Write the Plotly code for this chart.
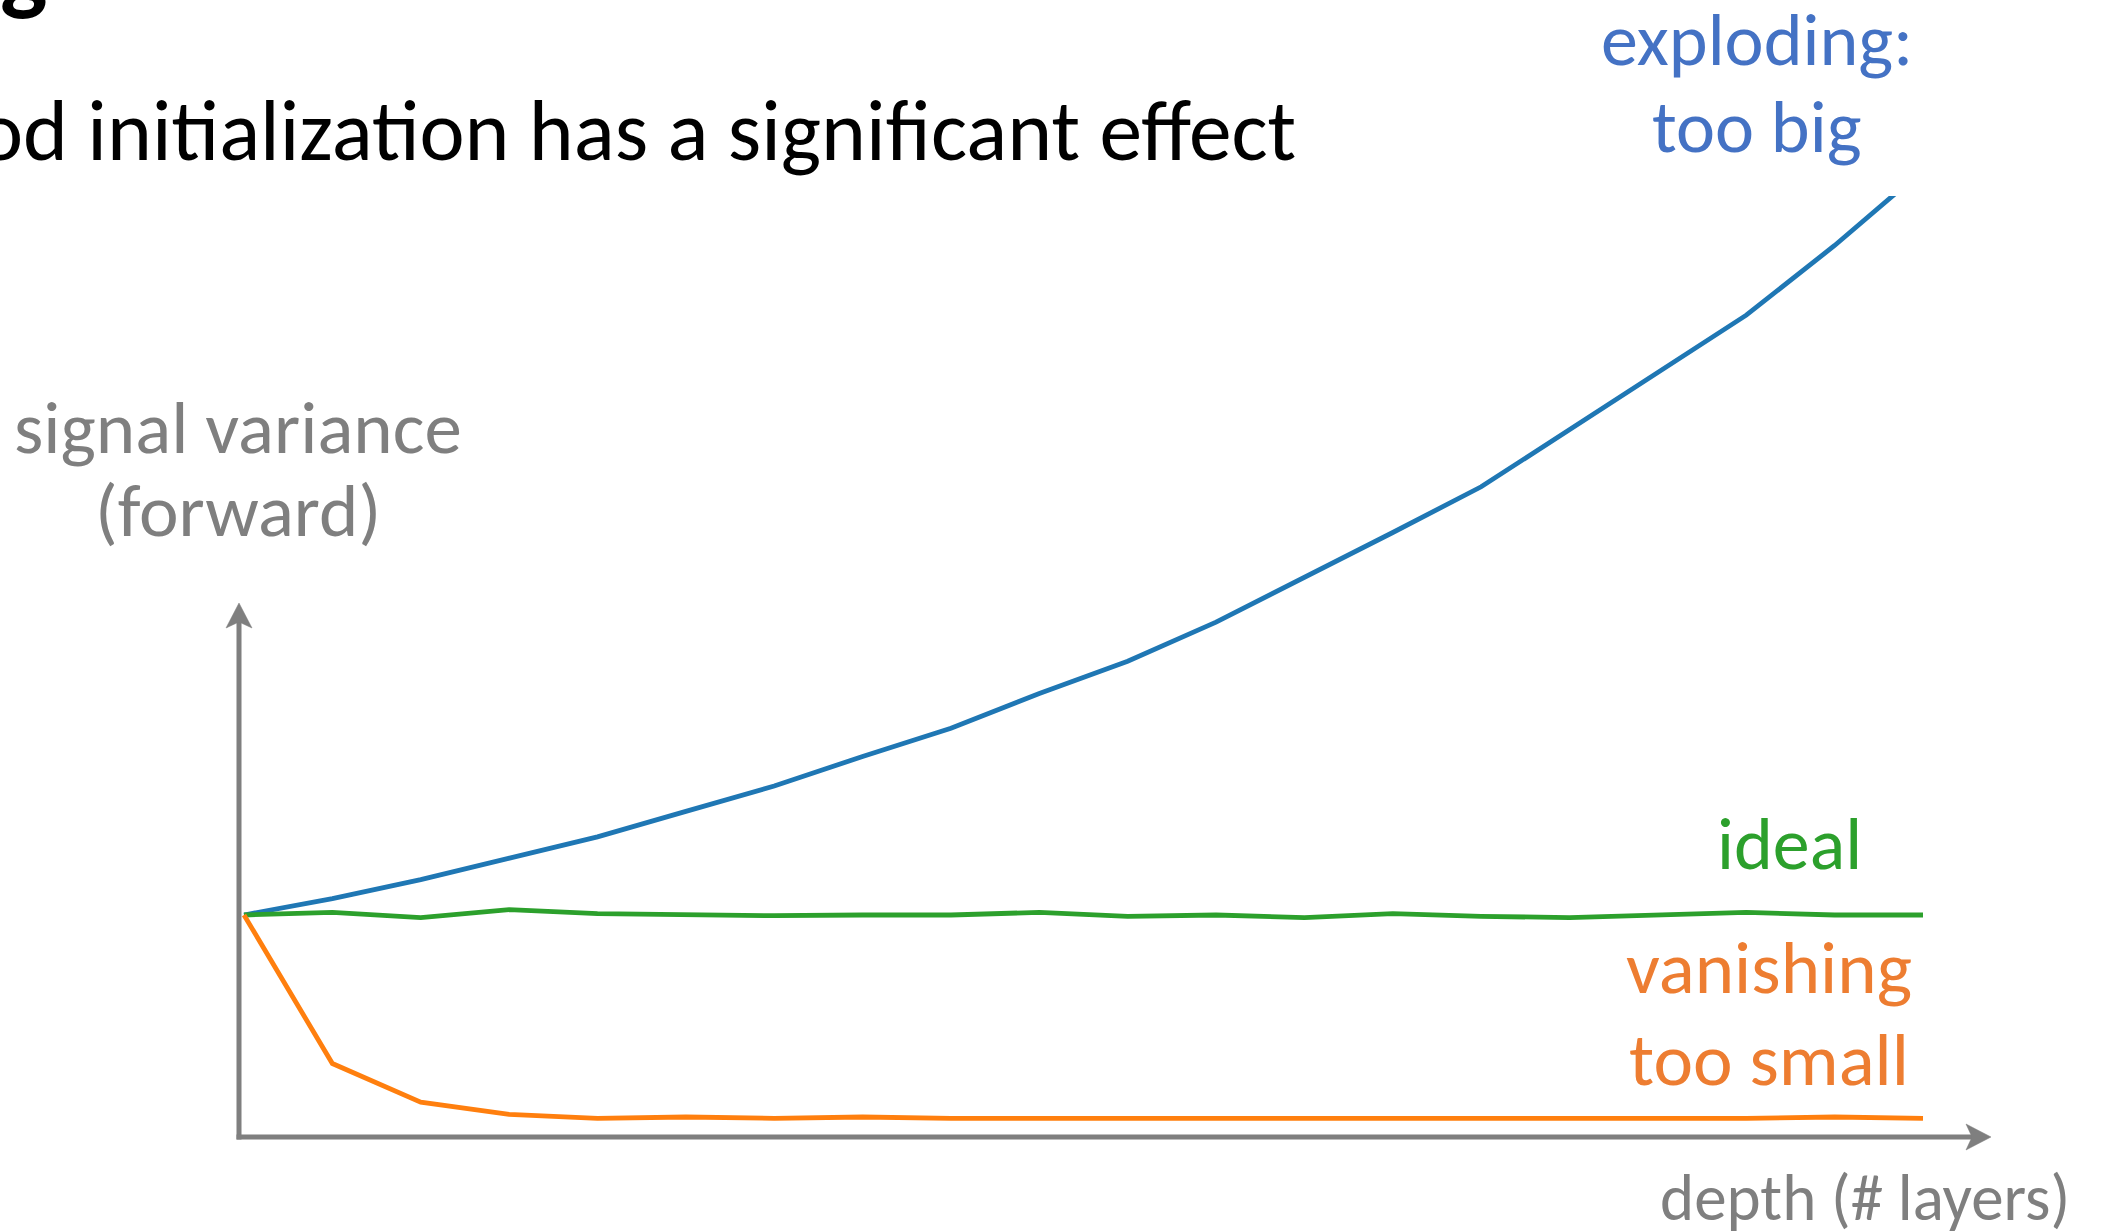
import plotly.graph_objects as go

# ---- data -------------------------------------------------------------
depth = list(range(1, 21))  # layer index

exploding = [1.00, 1.074, 1.159, 1.255, 1.352, 1.467, 1.581, 1.714, 1.841, 1.998,
             2.143, 2.319, 2.518, 2.723, 2.929, 3.188, 3.442, 3.702, 4.016, 4.356]
ideal = [1.00, 1.012, 0.988, 1.024, 1.006, 1.00, 0.997, 1.00, 1.00, 1.012,
         0.994, 1.00, 0.988, 1.006, 0.994, 0.988, 1.00, 1.012, 1.00, 1.00]
vanishing = [1.00, 0.331, 0.157, 0.102, 0.084, 0.090, 0.084, 0.090, 0.084, 0.084,
             0.084, 0.084, 0.084, 0.086, 0.084, 0.084, 0.084, 0.084, 0.090, 0.084]

series_names = ["exploding", "ideal", "vanishing"]

# ---- canvas geometry (pixels) ------------------------------------------
W, H = 2103, 1231
AX_LEFT, AX_BOTTOM = 239, 1137      # where the two axis arrows meet
X_TIP, Y_TIP = 1991, 603            # arrow tips
HEAD_LEN, HEAD_HALF, NOTCH = 25, 13, 6
PLOT_TOP = 196                      # exploding curve is cut off here
X0_PX, X19_PX = 244, 1923           # first / last layer positions
UNIT_PX = 222                       # pixels per unit of variance

px_per_layer = (X19_PX - X0_PX) / (depth[-1] - depth[0])
x_range = [depth[0] - (X0_PX - AX_LEFT) / px_per_layer,
           depth[0] + (X_TIP - X0_PX) / px_per_layer]
y_range = [0, (AX_BOTTOM - PLOT_TOP) / UNIT_PX]


def px(x):
    return x / W


def py(y):
    return 1 - y / H


FONT = "Carlito, Lato, 'Open Sans', sans-serif"
GRAY = "#7F7F7F"

fig = go.Figure()
line_colors = {"exploding": "#1F77B4", "ideal": "#2CA02C", "vanishing": "#FF7F0E"}
for name, vals in zip(series_names, [exploding, ideal, vanishing]):
    fig.add_trace(go.Scatter(
        x=depth, y=vals, mode="lines", name=name,
        line=dict(color=line_colors[name], width=4.8),
        showlegend=False, hoverinfo="skip",
    ))

# ---- hand-drawn style axes with stealth arrowheads ----------------------
shapes = []
axis_line = dict(type="line", xref="paper", yref="paper",
                 line=dict(color=GRAY, width=5))
shapes.append(dict(x0=px(AX_LEFT), y0=py(AX_BOTTOM + 2.5),
                   x1=px(AX_LEFT), y1=py(Y_TIP + HEAD_LEN - NOTCH), **axis_line))
shapes.append(dict(x0=px(AX_LEFT - 2.5), y0=py(AX_BOTTOM),
                   x1=px(X_TIP - HEAD_LEN + NOTCH), y1=py(AX_BOTTOM), **axis_line))


def head_path(points):
    return "M " + " L ".join(f"{px(x):.6f},{py(y):.6f}" for x, y in points) + " Z"


y_head = [(AX_LEFT, Y_TIP), (AX_LEFT + HEAD_HALF, Y_TIP + HEAD_LEN),
          (AX_LEFT, Y_TIP + HEAD_LEN - NOTCH), (AX_LEFT - HEAD_HALF, Y_TIP + HEAD_LEN)]
x_head = [(X_TIP, AX_BOTTOM), (X_TIP - HEAD_LEN, AX_BOTTOM - HEAD_HALF),
          (X_TIP - HEAD_LEN + NOTCH, AX_BOTTOM), (X_TIP - HEAD_LEN, AX_BOTTOM + HEAD_HALF)]
for pts in (y_head, x_head):
    shapes.append(dict(type="path", xref="paper", yref="paper", path=head_path(pts),
                       fillcolor=GRAY, line=dict(color=GRAY, width=0.5)))

# ---- text ----------------------------------------------------------------
annotations = []


def label(text, x, baseline, size, color, anchor="center", bold=False):
    # place a single text line by its baseline (pixels)
    centre = baseline - 0.34 * size
    t = f"<b>{text}</b>" if bold else text
    annotations.append(dict(
        text=t, x=px(x), y=py(centre), xref="paper", yref="paper",
        xanchor=anchor, yanchor="middle", showarrow=False,
        font=dict(family=FONT, size=size, color=color),
    ))


label("g", -2, 2, 100, "#000000", anchor="left", bold=True)
label("Good initialization has a significant effect", 1298, 160, 85.5, "#000000", anchor="right")

label("exploding:", 1757, 65, 74, "#4472C4")
label("too big", 1757, 152, 74, "#4472C4")

label("signal variance", 238, 453, 75, GRAY)
label("(forward)", 238, 536, 75, GRAY)

label("ideal", 1864, 869, 74, "#2CA02C", anchor="right")

label("vanishing", 1769, 993, 75, "#ED7D31")
label("too small", 1769, 1085, 75, "#ED7D31")

label("depth (# layers)", 2072, 1220, 65, GRAY, anchor="right")

fig.update_layout(
    width=W, height=H,
    margin=dict(l=0, r=0, t=0, b=0),
    paper_bgcolor="white", plot_bgcolor="white",
    xaxis=dict(visible=False, range=x_range,
               domain=[px(AX_LEFT), px(X_TIP)]),
    yaxis=dict(visible=False, range=y_range,
               domain=[py(AX_BOTTOM), py(PLOT_TOP)]),
    shapes=shapes,
    annotations=annotations,
)

fig.write_html("out.html")
